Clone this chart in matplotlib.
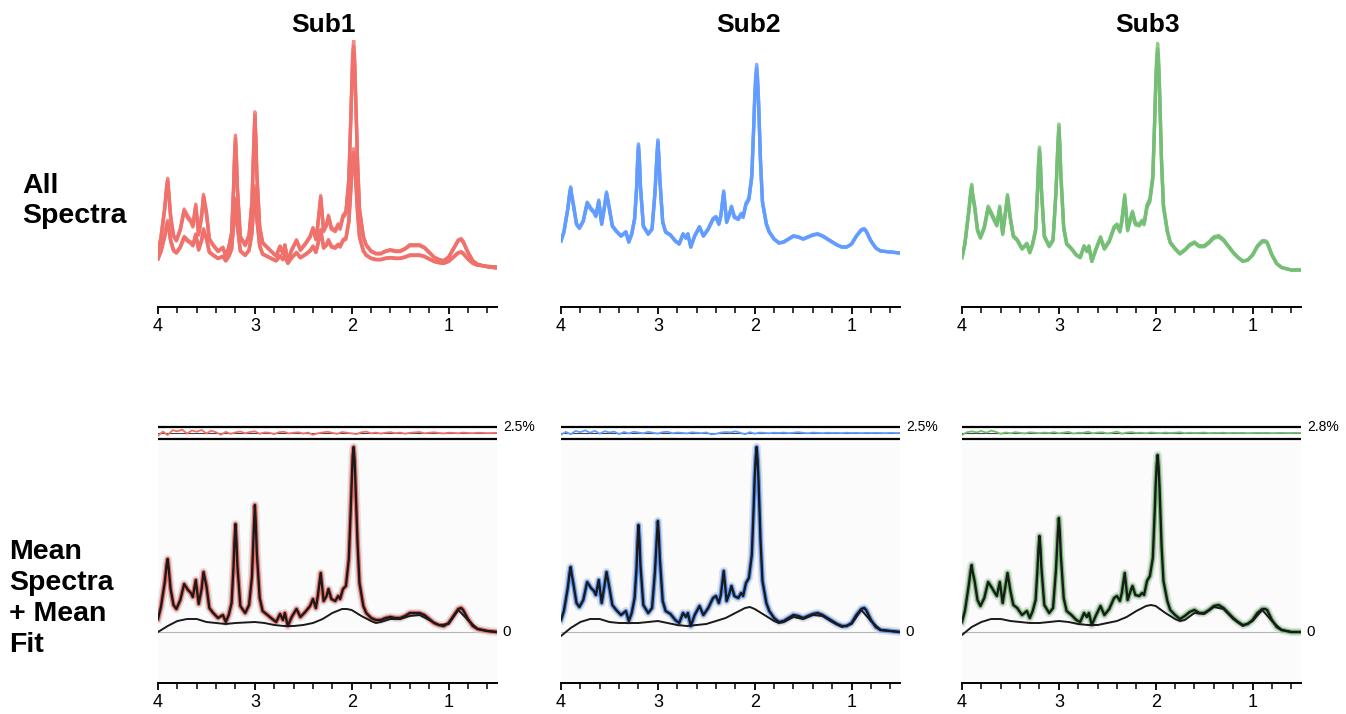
import numpy as np
import matplotlib.pyplot as plt
from matplotlib.ticker import MultipleLocator

plt.rcParams['font.family'] = ['Liberation Sans', 'DejaVu Sans']

# chemical shift grid (ppm) shared by the mean spectra
ppm = [4.00, 3.97, 3.93, 3.91, 3.90, 3.89, 3.87, 3.84, 3.81, 3.77,
       3.73, 3.69, 3.66, 3.64, 3.61, 3.58, 3.55, 3.53, 3.50, 3.47,
       3.43, 3.38, 3.33, 3.30, 3.27, 3.24, 3.22, 3.21, 3.20, 3.19,
       3.18, 3.15, 3.10, 3.06, 3.03, 3.01, 3.00, 2.99, 2.98, 2.95,
       2.92, 2.87, 2.82, 2.78, 2.74, 2.71, 2.69, 2.66, 2.62, 2.57,
       2.53, 2.48, 2.43, 2.40, 2.37, 2.35, 2.32, 2.29, 2.26, 2.24,
       2.21, 2.17, 2.14, 2.12, 2.09, 2.06, 2.03, 2.01, 2.00, 1.99,
       1.98, 1.97, 1.96, 1.94, 1.92, 1.88, 1.85, 1.80, 1.75, 1.70,
       1.65, 1.60, 1.55, 1.50, 1.45, 1.40, 1.35, 1.30, 1.25, 1.20,
       1.15, 1.10, 1.05, 1.00, 0.95, 0.90, 0.87, 0.85, 0.80, 0.75,
       0.70, 0.60, 0.50]

sub1_mean = [13, 25, 50, 68, 73, 64, 43, 27, 23, 32,
             48, 42, 39, 35, 52, 28, 43, 60, 46, 24,
             19, 14, 17, 10, 17, 29, 66, 92, 108, 90,
             66, 26, 19, 27, 55, 105, 127, 108, 79, 34,
             21, 17, 13, 10, 18, 12, 19, 6, 15, 23,
             15, 20, 26, 33, 24, 36, 59, 31, 36, 43,
             33, 31, 36, 33, 43, 46, 73, 123, 150, 176,
             185, 172, 145, 89, 49, 26, 19, 14, 12, 12,
             14, 15, 14, 14, 16, 19, 19, 19, 17, 13,
             9, 7, 6, 9, 16, 23, 24, 22, 13, 6,
             3, 1, 0]

sub2_mean = [12, 21, 44, 60, 65, 58, 47, 29, 25, 32,
             50, 44, 41, 37, 52, 29, 47, 60, 44, 27,
             22, 17, 21, 11, 19, 34, 64, 90, 107, 92,
             67, 27, 19, 24, 60, 96, 111, 97, 74, 31,
             21, 18, 12, 9, 19, 15, 19, 6, 17, 26,
             17, 24, 34, 36, 29, 37, 61, 31, 39, 46,
             36, 34, 39, 36, 49, 54, 77, 127, 155, 174,
             185, 172, 150, 91, 51, 29, 21, 14, 10, 11,
             14, 17, 16, 14, 16, 18, 19, 17, 14, 11,
             8, 6, 6, 9, 17, 23, 24, 22, 12, 5,
             2, 1, 0]

sub3_mean = [10, 21, 47, 62, 67, 60, 51, 32, 26, 34,
             50, 44, 39, 36, 50, 29, 47, 59, 41, 27,
             24, 17, 21, 14, 21, 32, 64, 84, 96, 84,
             64, 27, 19, 24, 62, 100, 114, 100, 77, 34,
             21, 17, 12, 10, 19, 15, 19, 7, 16, 26,
             17, 23, 34, 36, 31, 39, 59, 32, 41, 46,
             37, 36, 39, 37, 51, 56, 74, 121, 148, 167,
             177, 165, 143, 87, 51, 31, 22, 17, 13, 16,
             20, 22, 19, 19, 22, 26, 27, 24, 19, 14,
             10, 7, 8, 12, 19, 23, 23, 22, 12, 5,
             2, 0, 0]

# fitted baseline
base_ppm = [4.0, 3.9, 3.8, 3.7, 3.6, 3.5, 3.4, 3.3, 3.2, 3.1,
            3.0, 2.9, 2.8, 2.7, 2.6, 2.5, 2.4, 2.3, 2.2, 2.1,
            2.05, 2.0, 1.9, 1.8, 1.75, 1.7, 1.6, 1.5, 1.4, 1.3,
            1.2, 1.1, 1.0, 0.9, 0.8, 0.7, 0.6, 0.5]
sub1_base = [0, 6, 11, 13, 13, 10, 9, 8, 9, 9.5,
             10, 9, 7, 6, 6, 7, 9, 13, 19, 23,
             23, 22, 16, 11, 9, 10, 13, 13, 16, 17,
             12, 7, 8, 22, 12, 3, 1, 0]
sub2_base = [-4, 4, 10, 13, 13, 10, 9, 9, 9, 10,
             11, 9, 7, 6, 7, 8, 11, 14, 19, 24,
             25, 23, 17, 11, 9, 10, 15, 13, 17, 16,
             10, 5, 8, 22, 11, 2, 1, 0]
sub3_base = [-3, 5, 10, 13, 13, 11, 10, 9, 9, 10,
             11, 10, 8, 7, 7, 9, 11, 15, 21, 26,
             27, 26, 19, 13, 11, 12, 19, 18, 25, 23,
             13, 6, 11, 22, 11, 2, 0, 0]

# fit residuals, 4.0 -> 0.5 ppm
sub1_res = [-2.0, 1.0, -1.5, 2.0, 1.2, 2.4, -0.4, 1.8, 0.9, 2.2,
            -0.3, 1.6, 0.5, -1.2, 0.8, -0.6, 0.4, 1.1, -0.2, 0.7,
            1.2, -0.5, 0.4, 0.2, -0.8, 0.6, 0.9, -0.3, 0.2, 0.5,
            -0.4, 0.3, -1.3, -0.2, 0.4, 0.9, 0.1, -0.6, 0.7, 0.2,
            -0.3, -0.8, 0.5, 1.0, -0.2, 0.3, -0.4, 0.2, 0.6, -0.1,
            0.3, -0.5, 0.1, 0.4, 0.7, -0.2, 0.2, 0.5, 0.0, -0.3,
            0.2, 0.1, -0.2, 0.3, 0.0, -0.1, 0.2, 0.1, -0.1, 0.0,
            0.1]
sub2_res = [-1.2, 0.8, -0.9, 1.5, 0.6, 1.9, 0.2, 1.6, -0.5, 1.3,
            0.4, 1.0, -0.8, 0.7, -0.3, 0.9, 0.3, -0.2, 0.8, 0.2,
            -0.4, 0.6, 0.9, -0.2, 0.3, 0.1, -0.3, 0.5, 0.2, -0.1,
            0.4, -1.0, -0.6, 0.3, 0.7, 0.4, 1.2, 0.2, -0.9, 0.6,
            -0.5, 0.3, 0.1, -0.2, 0.2, 0.0, 0.3, -0.1, 0.2, 0.6,
            0.1, -0.2, 0.3, 0.1, -0.1, 0.2, 0.0, 0.1, -0.1, 0.2,
            0.0, 0.1, -0.1, 0.1, 0.0, 0.1, 0.0, -0.1, 0.1, 0.0,
            0.0]
sub3_res = [-1.5, 0.5, 1.2, 0.4, 1.5, 0.2, 1.7, 0.8, -0.6, 0.4,
            -0.2, 0.6, 0.1, -0.3, 0.5, 0.2, -0.1, 0.3, 0.0, 0.6,
            -0.2, 0.3, 0.8, -0.4, 0.2, 0.1, 0.9, -0.2, 0.3, 0.5,
            -0.3, 0.2, 1.0, -0.5, 0.3, 0.6, 0.0, 0.2, -0.2, 0.4,
            0.1, -0.1, 0.3, 0.0, 0.2, 0.5, -0.1, 0.2, 0.0, 0.1,
            0.3, -0.1, 0.1, 0.0, 0.2, -0.1, 0.1, 0.0, 0.1, -0.1,
            0.0, 0.1, 0.0, 0.1, -0.1, 0.0, 0.1, 0.0, 0.0, 0.1,
            0.0]

subjects = ["Sub1", "Sub2", "Sub3"]
res_labels = ["2.5%", "2.5%", "2.8%"]
means = [sub1_mean, sub2_mean, sub3_mean]
baselines = [sub1_base, sub2_base, sub3_base]
residuals = [sub1_res, sub2_res, sub3_res]

# individual spectra in the top row: scale and offset of each trace
trace_scales = [[1.17, 1.20, 1.23, 0.60, 0.62, 0.64],
                [0.98, 1.00, 1.02],
                [1.22, 1.25, 1.28]]
trace_offsets = [[38.7, 38.7, 38.7, 39.7, 39.7, 39.7],
                 [53.7, 53.7, 53.7],
                 [36.7, 36.7, 36.7]]

colors = ["#F0706A", "#619CFF", "#74BE74"]

# layout in pixels
W, H = 1346, 714
col_left = [158, 561, 962]
col_w = 339
title_x = [323, 748, 1148]


def rect(x0, y0, w, h):
    return [x0 / W, 1 - (y0 + h) / H, w / W, h / H]


def style_axis(ax):
    for s in ["top", "left", "right"]:
        ax.spines[s].set_visible(False)
    ax.spines["bottom"].set_linewidth(1.4)
    ax.set_xlim(4.0, 0.5)
    ax.set_xticks([4, 3, 2, 1])
    ax.set_xticklabels(["4", "3", "2", "1"])
    ax.xaxis.set_minor_locator(MultipleLocator(0.2))
    ax.tick_params(axis="x", which="major", length=5, width=1.3, pad=3, labelsize=13)
    ax.tick_params(axis="x", which="minor", length=4, width=1.1)
    ax.set_yticks([])


fig = plt.figure(figsize=(W / 100, H / 100), dpi=100)

for i in range(3):
    c = colors[i]
    mean = np.array(means[i], dtype=float)

    # top row: all spectra
    ax = fig.add_axes(rect(col_left[i], 40, col_w, 266.7))
    style_axis(ax)
    ax.set_ylim(0, 266.7)
    for s, o in zip(trace_scales[i], trace_offsets[i]):
        ax.plot(ppm, o + s * mean, color=c, lw=2.4, alpha=0.8, solid_joinstyle="round")

    # bottom row: mean spectrum + mean fit
    axb = fig.add_axes(rect(col_left[i], 442, col_w, 241))
    style_axis(axb)
    axb.set_facecolor("#fbfbfb")
    axb.set_ylim(-51, 190)
    axb.axhline(0, color="#b5b5b5", lw=0.8)
    axb.plot(ppm, mean, color="#d0d0d0", lw=6, alpha=0.6, solid_joinstyle="round")
    axb.plot(ppm, mean, color=c, lw=3.4, solid_joinstyle="round")
    axb.plot(ppm, mean, color="#1a1a1a", lw=1.7, solid_joinstyle="round")
    axb.plot(base_ppm, baselines[i], color="#1a1a1a", lw=1.4)
    axb.text(0.44, 0, "0", ha="left", va="center", fontsize=11, clip_on=False)

    # residual strip
    axr = fig.add_axes(rect(col_left[i], 419, col_w, 28))
    axr.set_axis_off()
    axr.patch.set_alpha(0)
    axr.set_xlim(4.0, 0.5)
    axr.set_ylim(-10, 10)
    res = residuals[i]
    res_ppm = np.linspace(4.0, 0.5, len(res))
    axr.axhline(4.1, color="black", lw=1.6)
    axr.axhline(-4.1, color="black", lw=1.6)
    axr.axhline(0, color="#444444", lw=0.8)
    axr.plot(res_ppm, res, color=c, lw=1.3)
    axr.text(0.44, 4.1, res_labels[i], ha="left", va="center", fontsize=10, clip_on=False)

    fig.text(title_x[i] / W, 1 - 32 / H, subjects[i], ha="center", va="baseline",
             fontsize=19, fontweight="bold")

fig.text(22 / W, 1 - 173 / H, "All\nSpectra", ha="left", va="top",
         fontsize=20.5, fontweight="bold", linespacing=1.22)
fig.text(9 / W, 1 - 539 / H, "Mean\nSpectra\n+ Mean\nFit", ha="left", va="top",
         fontsize=20.5, fontweight="bold", linespacing=1.25)

fig.savefig("out.png", dpi=100)
